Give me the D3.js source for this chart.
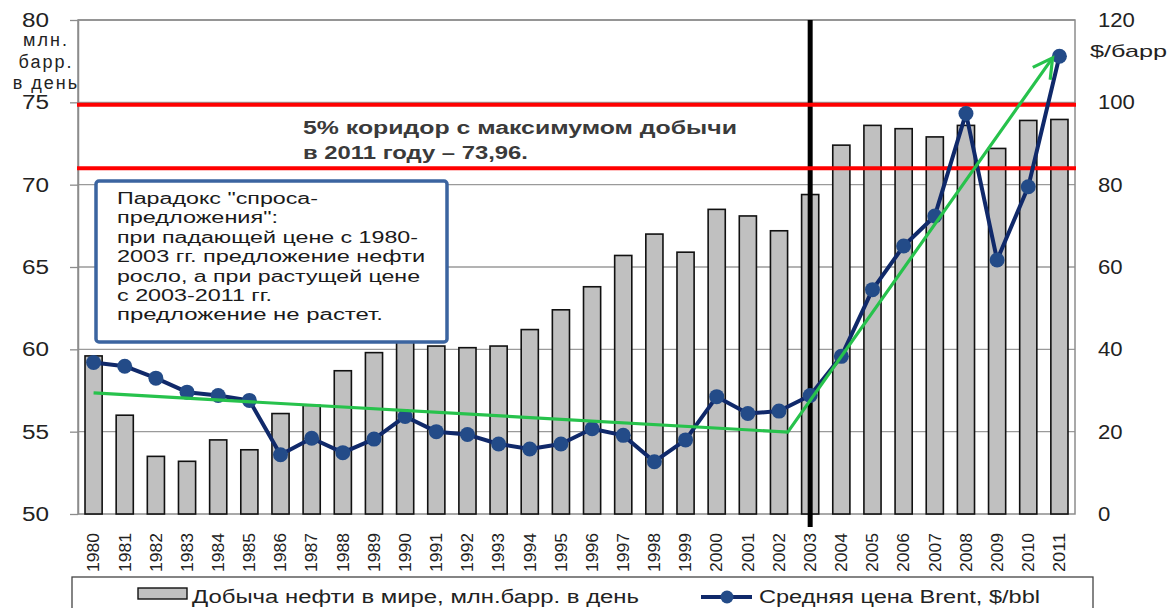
<!DOCTYPE html>
<html><head><meta charset="utf-8">
<script src="https://cdn.jsdelivr.net/npm/d3@7"></script>
<style>
body{margin:0;background:#fff}
svg{display:block}
text{font-family:"Liberation Sans",Arial,sans-serif}
</style>
</head><body>
<svg id="c" width="1173" height="608"></svg>
<script>
// ---------- data ----------
const years = ["1980","1981","1982","1983","1984","1985","1986","1987","1988","1989","1990","1991","1992","1993","1994","1995","1996","1997","1998","1999","2000","2001","2002","2003","2004","2005","2006","2007","2008","2009","2010","2011"];
const production = [59.6,56.0,53.5,53.2,54.5,53.9,56.1,56.6,58.7,59.8,60.6,60.2,60.1,60.2,61.2,62.4,63.8,65.7,67.0,65.9,68.5,68.1,67.2,69.4,72.4,73.6,73.4,72.9,73.6,72.2,73.9,73.96];
const brentPrice = [36.8,35.9,33.0,29.6,28.8,27.6,14.4,18.4,14.9,18.2,23.7,20.0,19.3,17.0,15.8,17.0,20.7,19.1,12.7,18.0,28.5,24.4,25.0,28.8,38.3,54.5,65.1,72.4,97.3,61.7,79.5,111.2];
const leftTicks = [50,55,60,65,70,75,80];
const rightTicks = [0,20,40,60,80,100,120];
const corridorLevels = [74.85, 71.0];
const trendYears = [1980, 2002.28, 2010.78];
const trendPrice = [29.4, 19.9, 110.8];
const dividerYear = "2003";
const leftUnit = ["млн.","барр.","в день"];
const rightUnit = "$/барр";
const corridorText = ["5% коридор с максимумом добычи","в 2011 году – 73,96."];
const boxText = ["Парадокс \"спроса-","предложения\":","при падающей цене с 1980-","2003 гг. предложение нефти","росло, а при растущей цене","с 2003-2011 гг.","предложение не растет."];
const legendLabels = ["Добыча нефти в мире, млн.барр. в день","Средняя цена Brent, $/bbl"];

// ---------- layout ----------
const L = 78, R = 1075, T = 20, B = 514;
const svg = d3.select("#c");

const x = d3.scaleBand().domain(years).range([L, R]).paddingInner(0.45).paddingOuter(0.225);
const bw = x.bandwidth();
const xc = d3.scaleLinear().domain([1980, 2011]).range([x("1980") + bw/2, x("2011") + bw/2]);
const yL = d3.scaleLinear().domain([50, 80]).range([B, T]);
const yR = d3.scaleLinear().domain([0, 120]).range([B, T]);

// gridlines
svg.append("g").selectAll("line").data(leftTicks.filter(d => d > 50)).join("line")
  .attr("x1", L).attr("x2", R).attr("y1", d => yL(d)).attr("y2", d => yL(d))
  .attr("stroke", "#9a9a9a").attr("stroke-width", 1.3);

// plot border
svg.append("rect").attr("x", L).attr("y", T).attr("width", R - L).attr("height", B - T)
  .attr("fill", "none").attr("stroke", "#8c8c8c").attr("stroke-width", 1.5);

// bars
svg.append("g").selectAll("rect").data(years).join("rect")
  .attr("x", d => x(d)).attr("width", bw)
  .attr("y", (d, i) => yL(production[i]))
  .attr("height", (d, i) => B - yL(production[i]))
  .attr("fill", "#c0c0c0").attr("stroke", "#111").attr("stroke-width", 1.6);

// left axis
const gL = svg.append("g").attr("transform", `translate(${L},0)`)
  .call(d3.axisLeft(yL).tickValues(leftTicks).tickSize(8).tickSizeOuter(0).tickPadding(21));
gL.select(".domain").attr("stroke", "#8c8c8c").attr("stroke-width", 1.5);
gL.selectAll(".tick line").attr("stroke", "#8c8c8c").attr("stroke-width", 1.3);
gL.selectAll(".tick text").attr("font-size", 20).attr("fill", "#222")
  .attr("font-family", "Liberation Sans, Arial, sans-serif")
  .attr("textLength", d => String(d).length * 13.5).attr("lengthAdjust", "spacingAndGlyphs");

// right axis
const gR = svg.append("g").attr("transform", `translate(${R},0)`)
  .call(d3.axisRight(yR).tickValues(rightTicks).tickSize(0).tickPadding(23));
gR.select(".domain").remove();
gR.selectAll(".tick text").attr("font-size", 20).attr("fill", "#222")
  .attr("font-family", "Liberation Sans, Arial, sans-serif")
  .attr("textLength", d => String(d).length * 12.3).attr("lengthAdjust", "spacingAndGlyphs");

// bottom axis (years)
const gB = svg.append("g").attr("transform", `translate(0,${B})`)
  .call(d3.axisBottom(x).tickSize(0));
gB.select(".domain").remove();
gB.selectAll(".tick text")
  .attr("transform", "rotate(-90)")
  .attr("x", -58).attr("y", 0).attr("dy", "0.36em")
  .attr("text-anchor", "start")
  .attr("font-size", 16).attr("fill", "#222")
  .attr("font-family", "Liberation Sans, Arial, sans-serif")
  .attr("textLength", 39).attr("lengthAdjust", "spacingAndGlyphs");

// units
svg.append("g").selectAll("text").data(leftUnit).join("text")
  .attr("x", 46).attr("y", (d, i) => 46 + i * 21.5)
  .attr("text-anchor", "middle").attr("font-size", 18).attr("fill", "#222")
  .attr("letter-spacing", 2).text(d => d);
svg.append("text").attr("x", 1090).attr("y", 57).attr("font-size", 17).attr("fill", "#222")
  .attr("textLength", 77).attr("lengthAdjust", "spacingAndGlyphs").text(rightUnit);

// black divider
svg.append("line")
  .attr("x1", x(dividerYear) + bw/2).attr("x2", x(dividerYear) + bw/2)
  .attr("y1", T).attr("y2", B + 13)
  .attr("stroke", "#000").attr("stroke-width", 5);

// red corridor lines
svg.append("g").selectAll("line").data(corridorLevels).join("line")
  .attr("x1", L - 1).attr("x2", R + 1).attr("y1", d => yL(d)).attr("y2", d => yL(d))
  .attr("stroke", "#ff0000").attr("stroke-width", 4);

// price line
const line = d3.line().x((d, i) => x(years[i]) + bw/2).y(d => yR(d));
svg.append("path").datum(brentPrice).attr("d", line)
  .attr("fill", "none").attr("stroke", "#10296a").attr("stroke-width", 4).attr("stroke-linejoin", "round");
svg.append("g").selectAll("circle").data(brentPrice).join("circle")
  .attr("cx", (d, i) => x(years[i]) + bw/2).attr("cy", d => yR(d)).attr("r", 7.5)
  .attr("fill", "#234b88");

// green trend with arrow
const defs = svg.append("defs");
defs.append("marker").attr("id", "arr").attr("viewBox", "0 0 12 12")
  .attr("refX", 10).attr("refY", 6).attr("markerWidth", 8).attr("markerHeight", 8)
  .attr("orient", "auto").attr("markerUnits", "strokeWidth")
  .append("path").attr("d", "M1,1 L10,6 L1,11").attr("fill", "none")
  .attr("stroke", "#27c24c").attr("stroke-width", 1.5);
const tline = d3.line().x((d, i) => xc(trendYears[i])).y(d => yR(d));
svg.append("path").datum(trendPrice).attr("d", tline)
  .attr("fill", "none").attr("stroke", "#27c24c").attr("stroke-width", 3.2)
  .attr("marker-end", "url(#arr)");

// annotation box
svg.append("rect").attr("x", 96).attr("y", 181).attr("width", 351).attr("height", 161)
  .attr("rx", 3).attr("fill", "#fff").attr("stroke", "#3b64a0").attr("stroke-width", 3.5);
const boxW = [201, 161, 301, 308, 303, 155, 266];
svg.append("g").selectAll("text").data(boxText).join("text")
  .attr("x", 117).attr("y", (d, i) => 204 + i * 19.4)
  .attr("font-size", 16).attr("fill", "#1a1a1a")
  .attr("textLength", (d, i) => boxW[i]).attr("lengthAdjust", "spacingAndGlyphs")
  .text(d => d);

// corridor text
const corW = [434, 225];
svg.append("g").selectAll("text").data(corridorText).join("text")
  .attr("x", 303).attr("y", (d, i) => 134 + i * 25)
  .attr("font-size", 18).attr("font-weight", "bold").attr("fill", "#3a3a3a")
  .attr("textLength", (d, i) => corW[i]).attr("lengthAdjust", "spacingAndGlyphs")
  .text(d => d);

// legend
const lg = svg.append("g");
lg.append("rect").attr("x", 72).attr("y", 577).attr("width", 1021).attr("height", 45)
  .attr("fill", "#fff").attr("stroke", "#444").attr("stroke-width", 1.3);
lg.append("rect").attr("x", 138).attr("y", 588).attr("width", 49).attr("height", 11)
  .attr("fill", "#c0c0c0").attr("stroke", "#111").attr("stroke-width", 1.4);
lg.append("text").attr("x", 192).attr("y", 603).attr("font-size", 18).attr("fill", "#222")
  .attr("textLength", 447).attr("lengthAdjust", "spacingAndGlyphs").text(legendLabels[0]);
lg.append("line").attr("x1", 701).attr("x2", 752).attr("y1", 597).attr("y2", 597)
  .attr("stroke", "#10296a").attr("stroke-width", 4);
lg.append("circle").attr("cx", 727).attr("cy", 597).attr("r", 6.5).attr("fill", "#234b88");
lg.append("text").attr("x", 759).attr("y", 603).attr("font-size", 18).attr("fill", "#222")
  .attr("textLength", 281).attr("lengthAdjust", "spacingAndGlyphs").text(legendLabels[1]);
</script>
</body></html>
